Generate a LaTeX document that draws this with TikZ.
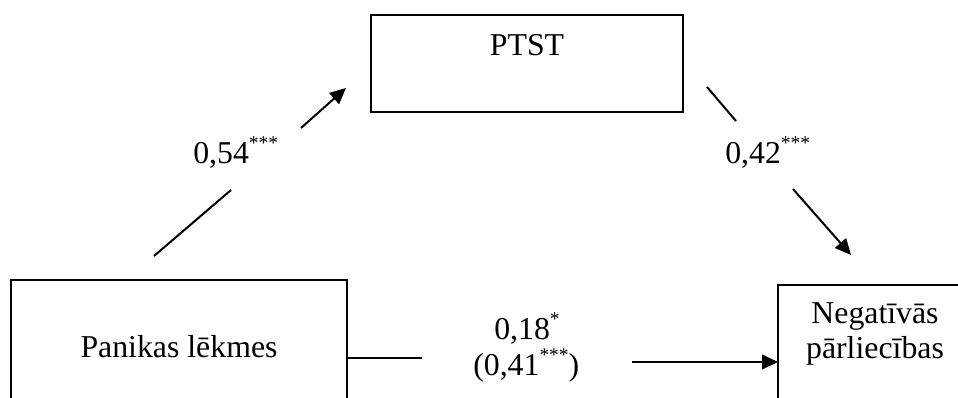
\documentclass[tikz,border=0pt]{standalone}
\usepackage{fontspec}
\setmainfont{Liberation Serif}
\usetikzlibrary{arrows.meta}
% significance stars set as a raised, smaller superscript
\newcommand\stars[1]{\raisebox{10.5pt}{\fontsize{14.6}{16}\selectfont #1}}

\begin{document}
\begin{tikzpicture}[x=0.75pt,y=-0.75pt,
  box/.style={draw, line width=1.4pt, rectangle, inner sep=0pt},
  lbl/.style={anchor=base, inner sep=0pt, font=\fontsize{23.85}{28}\selectfont},
  coef/.style={lbl, anchor=base west},
  link/.style={line width=1.5pt},
  arr/.style={link, -{Triangle[length=12pt,width=11pt]}}]
\useasboundingbox (0,0) rectangle (958,397);
\clip (0,0) rectangle (958,397);

% boxes
\node[box, minimum width=234pt, minimum height=72.75pt] (ptst) at (527,63.5) {};
\node[lbl] (ptsttext) at (527,55) {PTST};

\node[box, minimum width=252pt, minimum height=105pt] (pan) at (179,350) {};
\node[lbl] (pantext) at (179,357) {Panikas lēkmes};

\node[box, minimum width=145.5pt, minimum height=86.25pt] (neg) at (875,342.5) {};
\node[lbl] (negtext1) at (875,323) {Negatīvās};
\node[lbl] (negtext2) at (875,358) {pārliecības};

% path a: Panikas lēkmes -> PTST
\coordinate (a0) at (154,256);
\coordinate (a1) at (231,190);
\coordinate (a2) at (301,128);
\coordinate (a3) at (346,88);
\draw[link] (a0) -- (a1);
\draw[arr] (a2) -- (a3);
\node[coef] (acoef) at (193,163) {0,54\stars{***}};

% path b: PTST -> Negatīvās pārliecības
\coordinate (b0) at (707,87);
\coordinate (b1) at (736,121);
\coordinate (b2) at (793,189);
\coordinate (b3) at (851,255);
\draw[link] (b0) -- (b1);
\draw[arr] (b2) -- (b3);
\node[coef] (bcoef) at (725,163) {0,42\stars{***}};

% path c: direct effect
\coordinate (c0) at (347,358);
\coordinate (c1) at (422,358);
\coordinate (c2) at (632,362);
\coordinate (c3) at (778,362);
\draw[link] (c0) -- (c1);
\draw[arr] (c2) -- (c3);
\node[coef] (ccoef) at (494,339) {0,18\stars{*}};
\node[coef] (ccoeftot) at (473,375) {(0,41\stars{***})};
\end{tikzpicture}
\end{document}
